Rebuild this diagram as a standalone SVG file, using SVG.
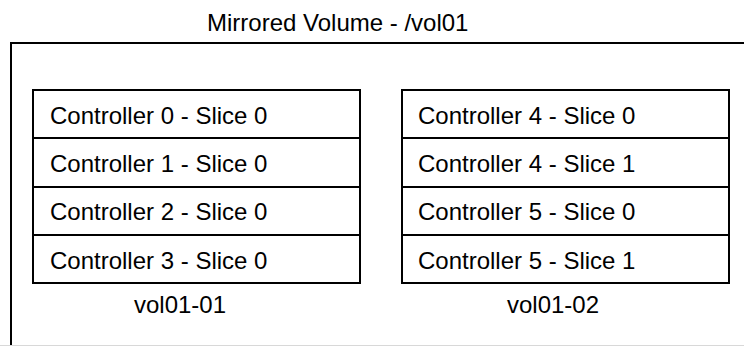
<svg xmlns="http://www.w3.org/2000/svg" width="744" height="346" viewBox="0 0 744 346">
<style>
  .box { fill: none; stroke: #000; stroke-width: 2; }
  .row { fill: #fff; stroke: #000; stroke-width: 2; }
  .t { font-family: "Liberation Sans", Arial, sans-serif; font-size: 24px; fill: #000; }
  .c { text-anchor: middle; }
</style>
<rect width="744" height="346" fill="#fff"/>
<g id="mirror">
  <text class="t" x="207" y="30.5">Mirrored Volume - /vol01</text>
  <path class="box" d="M760 43 H11 V360"/>
  <line x1="0" y1="345.5" x2="744" y2="345.5" stroke="#d8d8d8" stroke-width="1"/>
</g>
<g id="vol01-01">
  <g id="c0s0"><rect class="row" x="33" y="90" width="327" height="48"/><text class="t" x="50" y="123.5">Controller 0 - Slice 0</text></g>
  <g id="c1s0"><rect class="row" x="33" y="138" width="327" height="49"/><text class="t" x="50" y="172">Controller 1 - Slice 0</text></g>
  <g id="c2s0"><rect class="row" x="33" y="187" width="327" height="48"/><text class="t" x="50" y="220">Controller 2 - Slice 0</text></g>
  <g id="c3s0"><rect class="row" x="33" y="235" width="327" height="48"/><text class="t" x="50" y="268.5">Controller 3 - Slice 0</text></g>
  <text class="t c" x="180" y="313">vol01-01</text>
</g>
<g id="vol01-02">
  <g id="c4s0"><rect class="row" x="402" y="90" width="327" height="48"/><text class="t" x="418" y="123.5">Controller 4 - Slice 0</text></g>
  <g id="c4s1"><rect class="row" x="402" y="138" width="327" height="49"/><text class="t" x="418" y="172">Controller 4 - Slice 1</text></g>
  <g id="c5s0"><rect class="row" x="402" y="187" width="327" height="48"/><text class="t" x="418" y="220">Controller 5 - Slice 0</text></g>
  <g id="c5s1"><rect class="row" x="402" y="235" width="327" height="48"/><text class="t" x="418" y="268.5">Controller 5 - Slice 1</text></g>
  <text class="t c" x="553" y="313">vol01-02</text>
</g>
<g id="connectors"></g>
</svg>
